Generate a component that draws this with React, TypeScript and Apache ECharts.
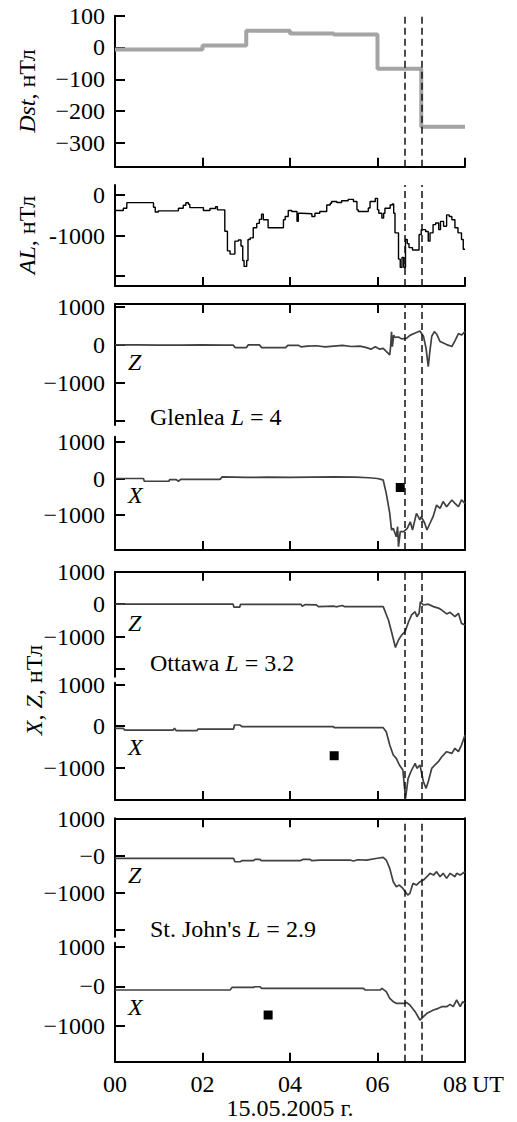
import React, { useEffect, useRef } from 'react';
import * as echarts from 'echarts';

// ---------- data ----------
const HOUR_TICKS = [0, 2, 4, 6, 8];
const DASHED_HOURS = [6.63, 7.0];

const DST_HOURS = [0, 1, 2, 3, 4, 5, 6, 7, 8];
const DST_VALUES = [-6, -6, 6, 53, 44, 41, -67, -249, -249];
const DST_TICKS = [100, 0, -100, -200, -300];

const AL_TICKS = [0, -1000, -2000];
const AL_LABELS = [0, -1000];
const AL_DATA: [number, number][] = [
  [0, -382], [0.19, -325], [0.27, -187], [0.88, -300], [0.92, -420], [0.99, -390], [1.45, -325],
  [1.56, -250], [1.62, -190], [1.68, -230], [1.71, -310], [2.02, -380], [2.17, -330], [2.3, -285],
  [2.34, -365], [2.51, -895], [2.57, -1380], [2.63, -1460], [2.74, -1140], [2.82, -1110], [2.88, -1260],
  [2.92, -1620], [2.95, -1765], [3.01, -1620], [3.04, -1100], [3.09, -1060], [3.16, -810], [3.24, -700],
  [3.3, -600], [3.35, -470], [3.39, -610], [3.5, -810], [3.85, -610], [3.89, -530], [3.96, -380],
  [4.04, -405], [4.16, -650], [4.19, -450], [4.27, -460], [4.5, -530], [4.57, -450], [4.68, -405],
  [4.84, -245], [4.92, -200], [4.95, -160], [5.07, -185], [5.18, -140], [5.33, -105], [5.45, -160],
  [5.53, -365], [5.56, -405], [5.79, -320], [5.83, -160], [5.95, -80], [6.0, -365], [6.03, -450],
  [6.1, -570], [6.14, -450], [6.17, -325], [6.29, -245], [6.34, -220], [6.37, -450], [6.4, -935],
  [6.48, -1585], [6.52, -1790], [6.56, -1545], [6.6, -1790], [6.64, -1100], [6.68, -1200], [6.72, -1300],
  [6.8, -1360], [6.95, -975], [7.0, -855], [7.1, -900], [7.16, -1140], [7.2, -935], [7.27, -730],
  [7.33, -690], [7.4, -855], [7.44, -650], [7.51, -770], [7.58, -490], [7.64, -530], [7.7, -610],
  [7.77, -810], [7.84, -935], [7.92, -1100], [7.96, -1340], [8.0, -1340],
];

const Z_TICKS = [1000, 0, -1000, -2000];
const ZX_LABELS = [1000, 0, -1000];
const X_TICKS = [1000, 0, -1000];

const GLENLEA_Z: [number, number][] = [
  [0, -10], [0.5, -10], [1.0, -15], [1.5, -15], [2.0, -10], [2.5, -12], [2.7, -15], [2.75, -80],
  [3.0, -80], [3.05, -5], [3.3, -5], [3.35, -80], [3.9, -80], [3.95, -20], [4.2, -20], [4.25, -60],
  [4.4, -40], [4.6, -30], [4.8, -60], [5.0, -40], [5.2, -20], [5.4, -50], [5.6, -40], [5.75, -80],
  [5.85, -120], [5.95, -60], [6.05, -120], [6.13, -100], [6.2, -180], [6.28, -270], [6.3, -50],
  [6.32, 340], [6.34, -55], [6.37, 250], [6.4, 190], [6.48, 200], [6.55, 150], [6.66, 166],
  [6.75, 250], [6.85, 300], [6.97, 360], [7.05, 220], [7.11, -100], [7.16, -580], [7.2, -150],
  [7.24, 220], [7.3, 340], [7.35, 280], [7.43, 80], [7.58, 0], [7.7, -50], [7.77, 100], [7.85, 290],
  [7.92, 250], [8.0, 340],
];
const GLENLEA_X: [number, number][] = [
  [0, 0], [0.65, 0], [0.67, -75], [1.23, -75], [1.25, -30], [1.4, -30], [1.45, -75], [1.5, -25],
  [2.4, -25], [2.45, 45], [3.0, 30], [3.5, 35], [4.0, 30], [4.5, 40], [5.0, 45], [5.5, 40], [5.8, 20],
  [6.0, 0], [6.1, -30], [6.13, -40], [6.2, -405], [6.28, -950], [6.32, -1405], [6.36, -1360],
  [6.43, -1590], [6.46, -1315], [6.48, -1860], [6.52, -1450], [6.6, -1450], [6.68, -1360],
  [6.75, -1180], [6.8, -1405], [6.89, -950], [6.97, -1130], [7.0, -1040], [7.08, -1220],
  [7.13, -1405], [7.2, -1220], [7.27, -1040], [7.35, -725], [7.43, -815], [7.5, -630], [7.58, -770],
  [7.7, -585], [7.77, -680], [7.85, -770], [7.92, -585], [8.0, -680],
];
const GLENLEA_MARK: [number, number][] = [[6.52, -245]];

const OTTAWA_Z: [number, number][] = [
  [0, 0], [2.7, 0], [2.72, -90], [2.85, -90], [2.87, -5], [4.25, -5], [4.28, -60], [4.35, -10],
  [4.6, -20], [4.65, -75], [5.0, -60], [5.05, -80], [5.2, -40], [5.25, -75], [6.13, -75],
  [6.25, -485], [6.32, -845], [6.41, -1330], [6.48, -1100], [6.55, -950], [6.63, -845], [6.71, -540],
  [6.78, -330], [6.86, -230], [6.9, -385], [6.95, -280], [6.98, 75], [7.05, -25], [7.16, 0],
  [7.28, -75], [7.39, -120], [7.47, -180], [7.58, -300], [7.66, -250], [7.77, -380], [7.85, -280],
  [7.92, -590], [8.0, -640],
];
const OTTAWA_X: [number, number][] = [
  [0, -50], [0.19, -50], [0.22, -92], [1.33, -92], [1.36, -50], [1.4, -108], [1.87, -108],
  [1.9, -68], [2.71, -68], [2.73, 29], [2.86, 29], [2.9, -12], [4.99, -12], [5.02, -36], [6.13, -36],
  [6.2, -133], [6.28, -454], [6.36, -695], [6.43, -775], [6.5, -936], [6.58, -1057], [6.64, -1740],
  [6.7, -1258], [6.78, -1057], [6.86, -896], [6.9, -1016], [6.97, -936], [7.05, -1339], [7.11, -1499],
  [7.16, -1339], [7.24, -1016], [7.31, -936], [7.39, -856], [7.47, -736], [7.58, -615], [7.7, -655],
  [7.77, -533], [7.85, -615], [7.92, -454], [8.0, -212],
];
const OTTAWA_MARK: [number, number][] = [[5.01, -712]];

const STJOHNS_Z: [number, number][] = [
  [0, -63], [2.71, -63], [2.74, -154], [2.86, -154], [2.9, -126], [3.16, -126], [3.2, -90],
  [3.31, -90], [3.35, -126], [4.23, -126], [4.3, -90], [4.46, -90], [4.5, -126], [4.69, -108],
  [5.37, -108], [5.45, -135], [5.55, -100], [5.75, -108], [6.0, -60], [6.13, -36], [6.2, -108],
  [6.28, -333], [6.36, -694], [6.43, -829], [6.5, -784], [6.58, -874], [6.69, -1054], [6.74, -1009],
  [6.81, -739], [6.89, -784], [6.97, -694], [7.05, -649], [7.13, -559], [7.2, -468], [7.28, -514],
  [7.35, -423], [7.43, -559], [7.5, -468], [7.58, -604], [7.66, -468], [7.77, -559], [7.81, -468],
  [7.89, -514], [8.0, -423],
];
const STJOHNS_X: [number, number][] = [
  [0, -93], [2.63, -93], [2.68, -25], [3.16, -25], [3.2, -10], [3.31, -10], [3.35, -50],
  [5.68, -50], [5.72, -93], [6.06, -93], [6.1, -50], [6.2, -135], [6.28, -303], [6.36, -387],
  [6.43, -429], [6.62, -429], [6.66, -404], [6.74, -471], [6.86, -639], [6.97, -849], [7.05, -765],
  [7.13, -681], [7.2, -639], [7.28, -597], [7.39, -555], [7.47, -513], [7.58, -513], [7.66, -454],
  [7.73, -513], [7.81, -345], [7.89, -513], [7.95, -387], [8.0, -429],
];
const STJOHNS_MARK: [number, number][] = [[3.5, -723]];

// ---------- styling ----------
const FONT = "'Liberation Serif', 'DejaVu Serif', serif";
const FS = 24;
const BLACK = '#000';
const LINE = { color: BLACK, width: 2 };
const LEFT = 115;
const RIGHT = 52;

const minusFmt = (v: number) => (v < 0 ? '\u2212' + Math.abs(v) : String(v));
const hyphenFmt = (v: number) => String(v);
const stJohnsFmt = (v: number) => (v <= 0 ? '\u2212' + Math.abs(v) : String(v));

function grid(top: number, height: number) {
  return { left: LEFT, right: RIGHT, top, height, containLabel: false, show: false };
}

function xAxis(gridIndex: number, position: 'top' | 'bottom', showLabels = false) {
  return {
    type: 'value', gridIndex, min: 0, max: 8, interval: 2, position,
    axisLine: { show: true, onZero: false, lineStyle: LINE },
    axisTick: { show: true, inside: true, length: 9, lineStyle: LINE },
    axisLabel: {
      show: showLabels, margin: 10, color: BLACK, fontFamily: FONT, fontSize: FS,
      formatter: (v: number) => (v === 8 ? '{e|08}' : String(v).padStart(2, '0')),
      rich: { e: { padding: [0, 20, 0, 0], color: BLACK, fontFamily: FONT, fontSize: FS } },
      customValues: HOUR_TICKS,
    },
    splitLine: { show: false },
  };
}

function yAxis(gridIndex: number, min: number, max: number, ticks: number[], labels: number[], fmt: (v: number) => string) {
  return {
    type: 'value', gridIndex, min, max, position: 'left',
    axisLine: { show: true, onZero: false, lineStyle: LINE },
    axisTick: { show: true, inside: true, length: 10, customValues: ticks, lineStyle: LINE },
    axisLabel: { show: true, customValues: labels, formatter: fmt, margin: 10, color: BLACK, fontFamily: FONT, fontSize: FS },
    splitLine: { show: false },
  };
}

function frameX(gridIndex: number) {
  return { type: 'value', gridIndex, min: 0, max: 8, show: false };
}
function frameY(gridIndex: number) {
  return {
    type: 'value', gridIndex, min: 0, max: 1, position: 'right',
    axisLine: { show: true, onZero: false, lineStyle: LINE },
    axisTick: { show: false }, axisLabel: { show: false }, splitLine: { show: false },
  };
}

const markLine = {
  silent: true,
  symbol: ['none', 'none'],
  label: { show: false },
  lineStyle: { color: '#111', type: [7, 4], width: 1.5 },
  data: DASHED_HOURS.map((h) => ({ xAxis: h })),
};

function curve(idx: number, data: [number, number][]) {
  return {
    type: 'line', xAxisIndex: idx, yAxisIndex: idx, data, symbol: 'none',
    lineStyle: { color: '#404040', width: 1.7 }, z: 3,
  };
}
function square(idx: number, data: [number, number][]) {
  return {
    type: 'scatter', xAxisIndex: idx, yAxisIndex: idx, data, symbol: 'rect', symbolSize: 9,
    itemStyle: { color: BLACK, opacity: 1 }, z: 4,
  };
}
function frameSeries(idx: number) {
  return { type: 'line', xAxisIndex: idx, yAxisIndex: idx, data: [], symbol: 'none', markLine };
}

function txt(x: number, y: number, rich: string, extra: any = {}) {
  return {
    type: 'text', x, y, z: 10,
    style: {
      text: rich, fontFamily: FONT, fontSize: FS, fill: BLACK,
      align: 'left', verticalAlign: 'middle',
      rich: {
        n: { fontFamily: FONT, fontSize: FS, fill: BLACK, color: BLACK },
        i: { fontFamily: FONT, fontSize: FS, fontStyle: 'italic', fill: BLACK, color: BLACK },
      },
      ...extra,
    },
  };
}
function vtxt(x: number, y: number, rich: string) {
  const t: any = txt(x, y, rich, { align: 'center' });
  t.rotation = Math.PI / 2;
  return t;
}

export default function App() {
  const ref = useRef<HTMLDivElement>(null);
  useEffect(() => {
    if (!ref.current) return;
    const chart = echarts.init(ref.current, undefined, { renderer: 'svg' });
    const option: any = {
      animation: false,
      backgroundColor: '#fff',
      grid: [
        grid(15.7, 151),      // 0 Dst
        grid(185, 101),       // 1 AL
        grid(304, 121),       // 2 Glenlea Z
        grid(436.7, 113.3),   // 3 Glenlea X
        grid(304, 246),       // 4 Glenlea frame
        grid(571.7, 105),     // 5 Ottawa Z
        grid(682.7, 117.3),   // 6 Ottawa X
        grid(571.7, 228.3),   // 7 Ottawa frame
        grid(818.3, 118.4),   // 8 St John's Z
        grid(942.7, 119),     // 9 St John's X
        grid(818.3, 243.4),   // 10 St John's frame
      ],
      xAxis: [
        xAxis(0, 'bottom'), xAxis(1, 'bottom'),
        xAxis(2, 'top'), xAxis(3, 'bottom'), frameX(4),
        xAxis(5, 'top'), xAxis(6, 'bottom'), frameX(7),
        xAxis(8, 'top'), xAxis(9, 'bottom', true), frameX(10),
      ],
      yAxis: [
        yAxis(0, -375, 100, DST_TICKS, DST_TICKS, minusFmt),
        yAxis(1, -2250, 250, AL_TICKS, AL_LABELS, hyphenFmt),
        yAxis(2, -2120, 1070, Z_TICKS, ZX_LABELS, minusFmt),
        yAxis(3, -1950, 1140, X_TICKS, ZX_LABELS, minusFmt),
        frameY(4),
        yAxis(5, -2230, 1000, Z_TICKS, ZX_LABELS, minusFmt),
        yAxis(6, -1780, 1050, X_TICKS, ZX_LABELS, minusFmt),
        frameY(7),
        yAxis(8, -2180, 1020, Z_TICKS, ZX_LABELS, stJohnsFmt),
        yAxis(9, -1900, 1100, X_TICKS, ZX_LABELS, stJohnsFmt),
        frameY(10),
      ],
      series: [
        {
          type: 'line', xAxisIndex: 0, yAxisIndex: 0, step: 'end', symbol: 'none',
          data: DST_HOURS.map((h, i) => [h, DST_VALUES[i]]),
          lineStyle: { color: '#a4a4a4', width: 4 }, markLine,
        },
        {
          type: 'line', xAxisIndex: 1, yAxisIndex: 1, step: 'end', symbol: 'none',
          data: AL_DATA, lineStyle: { color: '#000', width: 1.4 }, markLine,
        },
        curve(2, GLENLEA_Z), curve(3, GLENLEA_X), square(3, GLENLEA_MARK), frameSeries(4),
        curve(5, OTTAWA_Z), curve(6, OTTAWA_X), square(6, OTTAWA_MARK), frameSeries(7),
        curve(8, STJOHNS_Z), curve(9, STJOHNS_X), square(9, STJOHNS_MARK), frameSeries(10),
      ],
      graphic: [
        vtxt(27, 91, '{i|Dst}{n|, нТл}'),
        vtxt(27, 235, '{i|AL}{n|, нТл}'),
        vtxt(34, 690, '{i|X}{n|, }{i|Z}{n|, нТл}'),
        txt(128, 361.7, '{i|Z}'),
        txt(128, 495, '{i|X}'),
        txt(150, 416.7, '{n|Glenlea }{i|L}{n| = 4}'),
        txt(128, 623.3, '{i|Z}'),
        txt(128, 747.3, '{i|X}'),
        txt(150, 663.3, '{n|Ottawa }{i|L}{n| = 3.2}'),
        txt(128, 875, '{i|Z}'),
        txt(128, 1006.7, '{i|X}'),
        txt(150, 929.3, "{n|St. John's }{i|L}{n| = 2.9}"),
        txt(472, 1084, '{n|UT}'),
        txt(290, 1108, '{n|15.05.2005 г.}', { align: 'center' }),
      ],
    };
    chart.setOption(option);
    return () => chart.dispose();
  }, []);
  return (
    <div
      ref={ref}
      style={{ position: 'absolute', left: 0, top: 0, width: 517, height: 1122, background: '#fff' }}
    />
  );
}
